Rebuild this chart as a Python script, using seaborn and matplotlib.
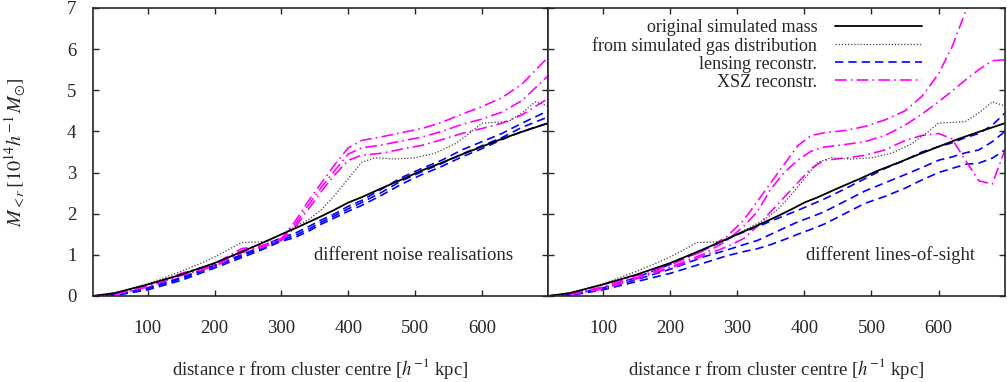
import numpy as np
import pandas as pd
import seaborn as sns
import matplotlib.pyplot as plt

# --- data (r in h^-1 kpc, M in 1e14 h^-1 Msun) ---
r_mass = [18, 50, 100, 150, 200, 240, 270, 300, 320, 340, 360, 380, 400, 420,
          450, 480, 510, 540, 570, 600, 630, 660, 699]
m_true = [0, 0.07, 0.28, 0.52, 0.8, 1.07, 1.28, 1.5, 1.64, 1.79, 1.94, 2.1, 2.27, 2.4,
          2.62, 2.83, 3.05, 3.24, 3.44, 3.63, 3.82, 3.99, 4.2]

r_gas = [18, 60, 100, 150, 180, 200, 220, 240, 260, 280, 300, 320, 340, 360, 380,
         400, 420, 440, 470, 500, 530, 560, 585, 600, 640, 660, 680, 699]
m_gas = [0, 0.1, 0.3, 0.6, 0.8, 0.95, 1.12, 1.3, 1.31, 1.33, 1.5, 1.68, 1.85, 2.1, 2.45,
         2.85, 3.25, 3.36, 3.33, 3.36, 3.47, 3.7, 4.0, 4.2, 4.24, 4.45, 4.72, 4.62]

# left panel: different noise realisations
r_noise = [18, 50, 100, 150, 200, 240, 270, 300, 320, 340, 360, 380, 400, 420,
           450, 480, 510, 540, 570, 600, 630, 660, 699]
lens_noise_1 = [0, 0.03, 0.2, 0.45, 0.75, 1.0, 1.2, 1.42, 1.52, 1.68, 1.85, 2.0, 2.18, 2.32,
                2.6, 2.88, 3.1, 3.3, 3.55, 3.75, 3.95, 4.2, 4.5]
lens_noise_2 = [0, 0.02, 0.18, 0.42, 0.72, 0.97, 1.16, 1.37, 1.47, 1.62, 1.8, 1.95, 2.12, 2.27,
                2.52, 2.8, 3.02, 3.22, 3.45, 3.65, 3.85, 4.1, 4.35]
lens_noise_3 = [0, 0.01, 0.15, 0.38, 0.68, 0.93, 1.12, 1.33, 1.42, 1.57, 1.75, 1.9, 2.06, 2.2,
                2.45, 2.72, 2.95, 3.15, 3.38, 3.58, 3.8, 4.0, 4.2]
xsz_noise_1 = [0, 0.05, 0.25, 0.55, 0.78, 1.15, 1.22, 1.4, 1.8, 2.3, 2.75, 3.2, 3.6, 3.78,
               3.87, 3.97, 4.07, 4.22, 4.42, 4.6, 4.82, 5.15, 5.8]
xsz_noise_2 = [0, 0.04, 0.24, 0.52, 0.75, 1.1, 1.2, 1.38, 1.72, 2.2, 2.65, 3.05, 3.45, 3.6,
               3.67, 3.77, 3.86, 4.0, 4.17, 4.3, 4.47, 4.75, 5.35]
xsz_noise_3 = [0, 0.03, 0.22, 0.5, 0.72, 1.05, 1.18, 1.35, 1.66, 2.1, 2.55, 2.95, 3.3, 3.42,
               3.47, 3.57, 3.66, 3.8, 3.95, 4.07, 4.2, 4.4, 4.8]

# right panel: different lines of sight
r_los = [18, 50, 100, 150, 200, 250, 285, 310, 330, 350, 370, 390, 410, 430,
         460, 490, 520, 550, 575, 600, 620, 640, 660, 680, 699]
lens_los_1 = [0, 0.03, 0.2, 0.45, 0.77, 1.12, 1.38, 1.56, 1.68, 1.82, 1.95, 2.08, 2.22, 2.36,
              2.6, 2.85, 3.1, 3.3, 3.5, 3.63, 3.72, 3.85, 3.95, 4.15, 4.45]
lens_los_2 = [0, 0.02, 0.17, 0.4, 0.65, 0.95, 1.12, 1.25, 1.35, 1.5, 1.65, 1.8, 1.92, 2.05,
              2.3, 2.55, 2.75, 2.95, 3.12, 3.3, 3.38, 3.48, 3.55, 3.75, 4.0]
lens_los_3 = [0, 0.01, 0.15, 0.35, 0.55, 0.8, 0.98, 1.08, 1.15, 1.25, 1.37, 1.5, 1.62, 1.75,
              2.0, 2.25, 2.42, 2.62, 2.82, 3.0, 3.1, 3.2, 3.23, 3.35, 3.55]
xsz_los_1 = [0, 0.05, 0.22, 0.5, 0.75, 1.1, 1.45, 1.85, 2.3, 2.75, 3.2, 3.65, 3.9, 3.97,
             4.02, 4.12, 4.28, 4.5, 4.85, 5.4, 6.05, 6.9, 7.8, 8.7, 9.6]
xsz_los_2 = [0, 0.04, 0.2, 0.45, 0.7, 1.02, 1.35, 1.7, 2.05, 2.6, 3.0, 3.3, 3.52, 3.62,
             3.68, 3.75, 3.9, 4.15, 4.42, 4.72, 4.98, 5.25, 5.5, 5.72, 5.74]
xsz_los_3 = [0, 0.03, 0.17, 0.42, 0.68, 0.98, 1.2, 1.4, 1.7, 2.05, 2.4, 2.75, 3.1, 3.3,
             3.35, 3.42, 3.55, 3.78, 3.9, 3.95, 3.82, 3.3, 2.8, 2.72, 3.55]

x_ticks = [100, 200, 300, 400, 500, 600]
y_ticks = [0, 1, 2, 3, 4, 5, 6, 7]

sns.set_style("ticks")
plt.rcParams['font.family'] = ['Liberation Serif', 'DejaVu Serif']
plt.rcParams['mathtext.fontset'] = 'stix'
plt.rcParams['xtick.direction'] = 'in'
plt.rcParams['ytick.direction'] = 'in'

BLUE = '#0000ff'
MAGENTA = '#ff00ff'
dash = (0, (5, 3))
dashdot = (0, (7, 2.5, 1, 2.5))

fig = plt.figure(figsize=(10.07, 3.82), dpi=100)
ax1 = fig.add_axes([93 / 1007, 1 - 296 / 382, 455 / 1007, 288 / 382])
ax2 = fig.add_axes([548 / 1007, 1 - 296 / 382, 457 / 1007, 288 / 382])


def draw(ax, lens, xsz, r_rec):
    for m in lens:
        sns.lineplot(x=r_rec, y=m, ax=ax, color=BLUE, lw=1.2, linestyle=dash, estimator=None)
    for m in xsz:
        sns.lineplot(x=r_rec, y=m, ax=ax, color=MAGENTA, lw=1.2, linestyle=dashdot, estimator=None)
    sns.lineplot(x=r_gas, y=m_gas, ax=ax, color='#444444', lw=0.9, linestyle=(0, (1, 1.5)),
                 estimator=None)
    sns.lineplot(x=r_mass, y=m_true, ax=ax, color='black', lw=1.3, estimator=None)


draw(ax1, [lens_noise_1, lens_noise_2, lens_noise_3],
     [xsz_noise_1, xsz_noise_2, xsz_noise_3], r_noise)
draw(ax2, [lens_los_1, lens_los_2, lens_los_3],
     [xsz_los_1, xsz_los_2, xsz_los_3], r_los)

for ax in (ax1, ax2):
    ax.set_xlim(18, 699)
    ax.set_ylim(0, 7)
    ax.set_xticks(x_ticks)
    ax.set_yticks(y_ticks)
    ax.tick_params(top=True, right=True, length=4, width=1, labelsize=13.5)
    ax.tick_params(axis='x', pad=17)
    ax.tick_params(axis='y', pad=12)
    for s in ax.spines.values():
        s.set_linewidth(1.2)
    ax.set_xlabel(r"distance r from cluster centre [$h^{-1}$ kpc]", fontsize=13.5, labelpad=14)

ax2.set_yticklabels([])
ax1.set_ylabel(r"$M_{<r}\,[10^{14}h^{-1}\,M_{\odot}]$", fontsize=14.5, labelpad=28)

ax1.text(0.923, 0.142, "different noise realisations", transform=ax1.transAxes,
         ha='right', va='center', fontsize=13.5)
ax2.text(0.934, 0.142, "different lines-of-sight", transform=ax2.transAxes,
         ha='right', va='center', fontsize=13.5)

handles = [
    plt.Line2D([], [], color='black', lw=1.3),
    plt.Line2D([], [], color='#444444', lw=0.9, linestyle=(0, (1, 1.5))),
    plt.Line2D([], [], color=BLUE, lw=1.2, linestyle=dash),
    plt.Line2D([], [], color=MAGENTA, lw=1.2, linestyle=dashdot),
]
labels = ["original simulated mass", "from simulated gas distribution",
          "lensing reconstr.", "XSZ reconstr."]
ax2.legend(handles, labels, loc='upper right', bbox_to_anchor=(922 / 1007, 1 - 19 / 382),
           bbox_transform=fig.transFigure, frameon=False, markerfirst=False,
           fontsize=13, handlelength=4.8, handletextpad=1.0, labelspacing=0.05,
           borderpad=0, borderaxespad=0)

fig.savefig("out.png", dpi=100)
